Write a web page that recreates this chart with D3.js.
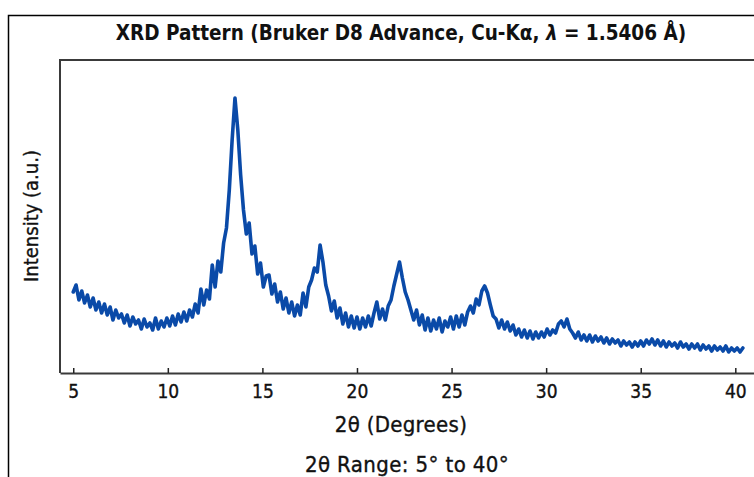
<!DOCTYPE html>
<html>
<head>
<meta charset="utf-8">
<script src="https://cdn.jsdelivr.net/npm/d3@7"></script>
<style>
  body { margin: 0; background: #fff; }
  text { font-family: "DejaVu Sans Condensed", "Liberation Sans Narrow", "Noto Sans", sans-serif; fill: #111; }
  .medium { stroke: #111; stroke-width: 0.35px; }
</style>
</head>
<body>
<div id="wrapper"></div>
<script>
// 2θ sampling grid of the scan (degrees)
const twoThetaStart = 5.0;
const twoThetaStep = 0.15;

// intensity (a.u.), one value per step
const intensity = [
  81, 88, 73, 82, 70, 78, 66, 75, 63, 71, 60, 69, 58, 66, 53, 63, 55, 59, 50, 58,
  47, 56, 49, 53, 44, 54, 46, 50, 43, 55, 44, 52, 46, 55, 47, 57, 48, 59, 51, 61,
  52, 63, 56, 69, 60, 84, 68, 83, 74, 108, 86, 112, 101, 130, 145, 183, 233, 275, 243, 198,
  163, 139, 150, 119, 127, 99, 110, 86, 97, 98, 79, 89, 71, 81, 64, 75, 60, 71, 57, 68,
  58, 80, 66, 86, 93, 105, 101, 128, 111, 88, 77, 62, 72, 55, 65, 49, 60, 46, 57, 45,
  56, 44, 55, 46, 57, 47, 60, 71, 54, 64, 53, 67, 73, 87, 99, 111, 95, 81, 73, 63,
  53, 63, 48, 58, 43, 55, 42, 53, 44, 55, 41, 52, 46, 56, 44, 57, 46, 58, 48, 61,
  67, 60, 74, 68, 82, 87, 80, 68, 57, 54, 45, 53, 44, 51, 42, 48, 38, 44, 36, 43,
  35, 42, 34, 41, 35, 41, 36, 44, 38, 43, 40, 49, 52, 46, 54, 44, 40, 35, 41, 33,
  38, 32, 38, 31, 37, 32, 36, 30, 35, 29, 34, 30, 33, 27, 32, 28, 31, 26, 31, 27,
  32, 27, 33, 29, 34, 28, 33, 27, 32, 26, 31, 27, 30, 25, 31, 26, 29, 24, 29, 25,
  29, 23, 28, 24, 27, 22, 27, 23, 26, 22, 27, 21, 25, 22, 25, 21, 25
];

const xTicks = [5, 10, 15, 20, 25, 30, 35, 40];

const titleText = "XRD Pattern (Bruker D8 Advance, Cu-K\u03b1, ";
const xLabel = "2\u03b8 (Degrees)";
const yLabel = "Intensity (a.u.)";
const rangeNote = "2\u03b8 Range: 5\u00b0 to 40\u00b0";

const points = intensity.map((v, i) => ({ t: twoThetaStart + i * twoThetaStep, v: v }));

const width = 754, height = 477;
const plot = { left: 60, top: 60, right: 758, bottom: 373 };

const svg = d3.select("#wrapper").append("svg")
  .attr("width", width)
  .attr("height", height);

// outer figure border
svg.append("path")
  .attr("d", `M8.5,${height + 2}V15.5H${width + 2}`)
  .attr("fill", "none")
  .attr("stroke", "#000")
  .attr("stroke-width", 1.5);

const xScale = d3.scaleLinear().domain([4.3, 41.2]).range([plot.left, plot.right]);
const yScale = d3.scaleLinear().domain([0, 313]).range([plot.bottom, plot.top]);

// frame: left and top edges
svg.append("path")
  .attr("d", `M${plot.left},${plot.bottom}V${plot.top}H${width + 2}`)
  .attr("fill", "none")
  .attr("stroke", "#3a3a3a")
  .attr("stroke-width", 2);

// pattern
const line = d3.line()
  .x(d => xScale(d.t))
  .y(d => yScale(d.v));

svg.append("path")
  .datum(points)
  .attr("d", line)
  .attr("fill", "none")
  .attr("stroke", "#0a4aa8")
  .attr("stroke-width", 3.6)
  .attr("stroke-linejoin", "round")
  .attr("stroke-linecap", "round");

// x axis
const xAxis = d3.axisBottom(xScale)
  .tickValues(xTicks)
  .tickSizeInner(-5)
  .tickSizeOuter(0)
  .tickPadding(12);

const gx = svg.append("g")
  .attr("transform", `translate(0,${plot.bottom})`)
  .call(xAxis);
gx.select(".domain").attr("stroke", "#3a3a3a").attr("stroke-width", 2);
gx.selectAll(".tick line").attr("stroke", "#222").attr("stroke-width", 1.5);
gx.selectAll(".tick text")
  .attr("class", "medium")
  .style("font-size", "19px")
  .style("font-family", "\"DejaVu Sans Condensed\", sans-serif")
  .attr("fill", "#111");

// title
const title = svg.append("text")
  .attr("x", 401)
  .attr("y", 40)
  .attr("text-anchor", "middle")
  .style("font-size", "20.5px")
  .style("font-weight", 600);
title.append("tspan").text(titleText);
title.append("tspan").style("font-style", "italic").text("\u03bb");
title.append("tspan").text(" = 1.5406 \u00c5)");

// axis labels
svg.append("text")
  .attr("class", "medium")
  .attr("x", 401)
  .attr("y", 432)
  .attr("text-anchor", "middle")
  .style("font-size", "22px")
  .style("letter-spacing", "0.3px")
  .text(xLabel);

svg.append("text")
  .attr("class", "medium")
  .attr("transform", "translate(38,216) rotate(-90)")
  .attr("text-anchor", "middle")
  .style("font-size", "20px")
  .text(yLabel);

svg.append("text")
  .attr("class", "medium")
  .attr("x", 407)
  .attr("y", 472)
  .attr("text-anchor", "middle")
  .style("font-size", "22px")
  .style("letter-spacing", "0.4px")
  .text(rangeNote);
</script>
</body>
</html>
